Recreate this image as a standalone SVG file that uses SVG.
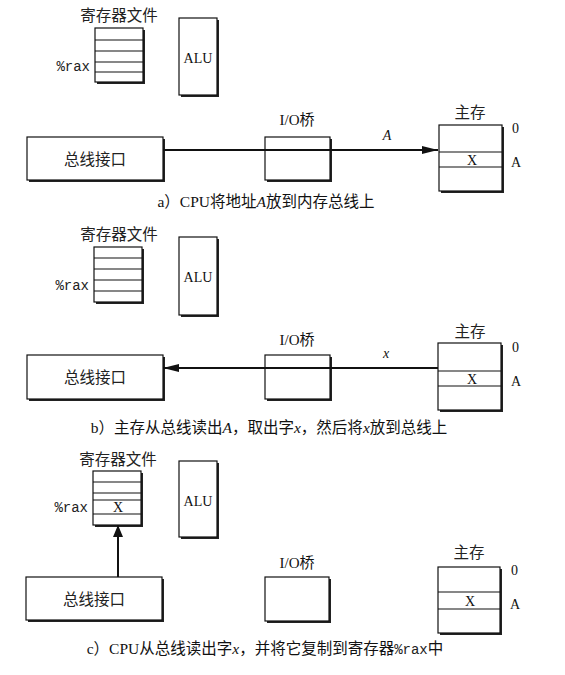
<svg xmlns="http://www.w3.org/2000/svg" width="565" height="675" viewBox="0 0 565 675">
<style>
.bg{fill:#fff}
.sh{fill:#222}
.box{fill:#fff;stroke:#111;stroke-width:1.2}
.ln{stroke:#111;stroke-width:1.2;fill:none}
.t{font-family:"Liberation Serif","Noto Sans CJK SC",serif;fill:#111}
.cj{font-family:"Noto Sans CJK SC","Liberation Serif",sans-serif;fill:#222}
.mono{font-family:"Liberation Mono",monospace;fill:#222}
.bus{stroke:#111;stroke-width:2;fill:none}
.it{font-style:italic}
</style>
<defs>
<marker id="ah" viewBox="0 0 16 8" refX="16" refY="4" markerWidth="16" markerHeight="8" markerUnits="userSpaceOnUse" orient="auto">
<path d="M0,0 L16,4 L0,8 Z" fill="#111"/>
</marker>
<marker id="ahv" viewBox="0 0 12 10" refX="12" refY="5" markerWidth="12" markerHeight="10" markerUnits="userSpaceOnUse" orient="auto">
<path d="M0,0 L12,5 L0,10 Z" fill="#111"/>
</marker>
</defs>
<rect class="bg" x="0" y="0" width="565" height="675"/>

<!-- Panel a -->
<g id="a-regfile">
<text class="cj" x="119" y="21" font-size="15.5" text-anchor="middle">寄存器文件</text>
<rect class="sh" x="97" y="30" width="48" height="54"/>
<rect class="box" x="95" y="28" width="48" height="54"/>
<path class="ln" d="M95,40H143M95,51H143M95,62H143M95,72H143"/>
<text class="mono" x="90" y="71" font-size="14" text-anchor="end">%rax</text>
</g>
<g id="a-alu">
<rect class="sh" x="181" y="20" width="38" height="77"/>
<rect class="box" x="179" y="18" width="38" height="77"/>
<text class="t" x="198" y="63" font-size="14" text-anchor="middle">ALU</text>
</g>
<g id="a-bus">
<rect class="sh" x="29" y="139" width="136" height="43"/>
<rect class="box" x="27" y="137" width="136" height="43"/>
<text class="cj" x="95" y="165" font-size="15.5" text-anchor="middle">总线接口</text>
</g>
<g id="a-iobridge">
<text class="t" x="297" y="125" font-size="15" text-anchor="middle">I/O桥</text>
<rect class="sh" x="267" y="139" width="65" height="43"/>
<rect class="box" x="265" y="137" width="65" height="43"/>
</g>
<g id="a-mem">
<text class="cj" x="470" y="118" font-size="15.5" text-anchor="middle">主存</text>
<rect class="sh" x="441" y="127" width="63" height="66"/>
<rect class="box" x="439" y="125" width="63" height="66"/>
<path class="ln" d="M439,152H502M439,167H502"/>
<text class="t" x="472" y="165" font-size="14" text-anchor="middle">X</text>
<text class="t" x="512" y="133" font-size="14">0</text>
<text class="t" x="511" y="167" font-size="14">A</text>
</g>
<text class="t" x="266" y="207" font-size="15.5" text-anchor="middle">a）CPU将地址<tspan class="it">A</tspan>放到内存总线上</text>

<!-- Panel b -->
<g id="b-regfile">
<text class="cj" x="119" y="240" font-size="15.5" text-anchor="middle">寄存器文件</text>
<rect class="sh" x="96" y="249" width="48" height="55"/>
<rect class="box" x="94" y="247" width="48" height="55"/>
<path class="ln" d="M94,258H142M94,269H142M94,280H142M94,291H142"/>
<text class="mono" x="89" y="290" font-size="14" text-anchor="end">%rax</text>
</g>
<g id="b-alu">
<rect class="sh" x="181" y="239" width="38" height="78"/>
<rect class="box" x="179" y="237" width="38" height="78"/>
<text class="t" x="198" y="282" font-size="14" text-anchor="middle">ALU</text>
</g>
<g id="b-bus">
<rect class="sh" x="29" y="357" width="136" height="44"/>
<rect class="box" x="27" y="355" width="136" height="44"/>
<text class="cj" x="95" y="383" font-size="15.5" text-anchor="middle">总线接口</text>
</g>
<g id="b-iobridge">
<text class="t" x="297" y="345" font-size="15" text-anchor="middle">I/O桥</text>
<rect class="sh" x="267" y="357" width="65" height="44"/>
<rect class="box" x="265" y="355" width="65" height="44"/>
</g>
<g id="b-mem">
<text class="cj" x="470" y="337" font-size="15.5" text-anchor="middle">主存</text>
<rect class="sh" x="440" y="345" width="63" height="67"/>
<rect class="box" x="438" y="343" width="63" height="67"/>
<path class="ln" d="M438,371H501M438,386H501"/>
<text class="t" x="472" y="384" font-size="14" text-anchor="middle">X</text>
<text class="t" x="512" y="352" font-size="14">0</text>
<text class="t" x="511" y="386" font-size="14">A</text>
</g>
<text class="t" x="269" y="433" font-size="15.5" text-anchor="middle">b）主存从总线读出<tspan class="it">A</tspan>，取出字<tspan class="it">x</tspan>，然后将<tspan class="it">x</tspan>放到总线上</text>

<!-- Panel c -->
<g id="c-regfile">
<text class="cj" x="118" y="465" font-size="15.5" text-anchor="middle">寄存器文件</text>
<rect class="sh" x="95" y="473" width="48" height="54"/>
<rect class="box" x="93" y="471" width="48" height="54"/>
<path class="ln" d="M93,482H141M93,493H141M93,500H141M93,514H141"/>
<text class="mono" x="88" y="512" font-size="14" text-anchor="end">%rax</text>
<text class="t" x="118" y="512" font-size="14" text-anchor="middle">X</text>
</g>
<g id="c-alu">
<rect class="sh" x="181" y="463" width="38" height="76"/>
<rect class="box" x="179" y="461" width="38" height="76"/>
<text class="t" x="198" y="506" font-size="14" text-anchor="middle">ALU</text>
</g>
<g id="c-bus">
<rect class="sh" x="28" y="579" width="136" height="43"/>
<rect class="box" x="26" y="577" width="136" height="43"/>
<text class="cj" x="94" y="605" font-size="15.5" text-anchor="middle">总线接口</text>
</g>
<g id="c-iobridge">
<text class="t" x="297" y="568" font-size="15" text-anchor="middle">I/O桥</text>
<rect class="sh" x="267" y="579" width="64" height="44"/>
<rect class="box" x="265" y="577" width="64" height="44"/>
</g>
<g id="c-mem">
<text class="cj" x="469" y="558" font-size="15.5" text-anchor="middle">主存</text>
<rect class="sh" x="440" y="569" width="62" height="66"/>
<rect class="box" x="438" y="567" width="62" height="66"/>
<path class="ln" d="M438,592H500M438,609H500"/>
<text class="t" x="470" y="606" font-size="14" text-anchor="middle">X</text>
<text class="t" x="511" y="575" font-size="14">0</text>
<text class="t" x="510" y="609" font-size="14">A</text>
</g>
<text class="t" x="265" y="654" font-size="15.5" text-anchor="middle">c）CPU从总线读出字<tspan class="it">x</tspan>，并将它复制到寄存器<tspan class="mono" font-size="14">%rax</tspan>中</text>

<!-- Connectors -->
<g id="connectors">
<line class="bus" x1="163" y1="150" x2="438" y2="150" marker-end="url(#ah)"/>
<text class="t it" x="387" y="140" font-size="14" text-anchor="middle">A</text>
<line class="bus" x1="438" y1="368" x2="163" y2="368" marker-end="url(#ah)"/>
<text class="t it" x="386" y="358" font-size="14" text-anchor="middle">x</text>
<line class="bus" x1="118" y1="577" x2="118" y2="525" stroke-width="2.5" marker-end="url(#ahv)"/>
</g>
</svg>
